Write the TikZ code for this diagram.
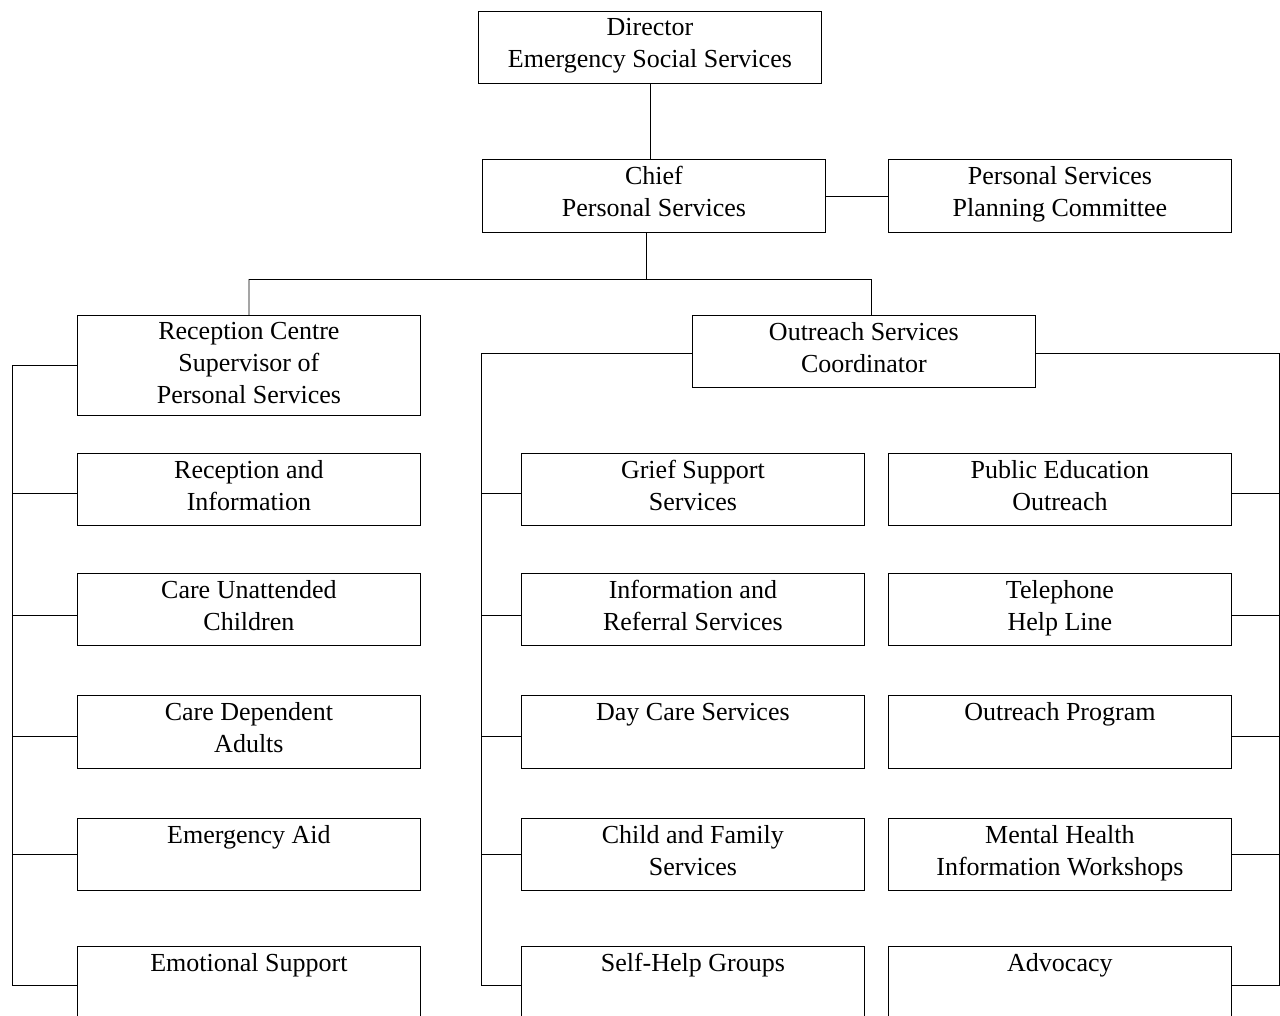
\documentclass[tikz,border=0pt]{standalone}
\usepackage{fontspec}
\setmainfont{Liberation Serif}
\newcommand{\orgfs}{\fontsize{26}{32}\selectfont}
\begin{document}
\begin{tikzpicture}[x=1pt,y=-1pt,
  box/.style={draw, line width=0.8pt, minimum width=343, minimum height=72, anchor=north west, inner sep=0},
  lbl/.style={anchor=north, inner sep=0, align=center, font=\orgfs},
  wire/.style={line width=0.8pt}]
\useasboundingbox (0,0) rectangle (1280,1015);
\clip (0,0) rectangle (1280,1015);
% top
\node[box] (dir) at (478,11) {};
\node[lbl] (dirT) at ([yshift=-7]dir.north) {Director\\Emergency Social Services};
\node[box, minimum height=73] (chief) at (482,159) {};
\node[lbl] (chiefT) at ([yshift=-7]chief.north) {Chief\\Personal Services};
\node[box, minimum height=73] (plan) at (888,159) {};
\node[lbl] (planT) at ([yshift=-7]plan.north) {Personal Services\\Planning Committee};
\node[box, minimum height=100] (rc) at (77,315) {};
\node[lbl] (rcT) at ([yshift=-7]rc.north) {Reception Centre\\Supervisor of\\Personal Services};
\node[box] (oc) at (692,315) {};
\node[lbl] (ocT) at ([yshift=-7]oc.north) {Outreach Services\\Coordinator};
% left column
\node[box] (l1) at (77,453) {};
\node[lbl] (l1T) at ([yshift=-7]l1.north) {Reception and\\Information};
\node[box] (l2) at (77,573) {};
\node[lbl] (l2T) at ([yshift=-7]l2.north) {Care Unattended\\Children};
\node[box, minimum height=73] (l3) at (77,695) {};
\node[lbl] (l3T) at ([yshift=-7]l3.north) {Care Dependent\\Adults};
\node[box] (l4) at (77,818) {};
\node[lbl] (l4T) at ([yshift=-7]l4.north) {Emergency Aid};
\node[box, minimum height=78] (l5) at (77,946) {};
\node[lbl] (l5T) at ([yshift=-7]l5.north) {Emotional Support};
% middle column
\node[box] (m1) at (521,453) {};
\node[lbl] (m1T) at ([yshift=-7]m1.north) {Grief Support\\Services};
\node[box] (m2) at (521,573) {};
\node[lbl] (m2T) at ([yshift=-7]m2.north) {Information and\\Referral Services};
\node[box, minimum height=73] (m3) at (521,695) {};
\node[lbl] (m3T) at ([yshift=-8]m3.north) {Day Care Services};
\node[box] (m4) at (521,818) {};
\node[lbl] (m4T) at ([yshift=-7]m4.north) {Child and Family\\Services};
\node[box, minimum height=78] (m5) at (521,946) {};
\node[lbl] (m5T) at ([yshift=-7]m5.north) {Self-Help Groups};
% right column
\node[box] (r1) at (888,453) {};
\node[lbl] (r1T) at ([yshift=-7]r1.north) {Public Education\\Outreach};
\node[box] (r2) at (888,573) {};
\node[lbl] (r2T) at ([yshift=-7]r2.north) {Telephone\\Help Line};
\node[box, minimum height=73] (r3) at (888,695) {};
\node[lbl] (r3T) at ([yshift=-7]r3.north) {Outreach Program};
\node[box] (r4) at (888,818) {};
\node[lbl] (r4T) at ([yshift=-7]r4.north) {Mental Health\\Information Workshops};
\node[box, minimum height=78] (r5) at (888,946) {};
\node[lbl] (r5T) at ([yshift=-7]r5.north) {Advocacy};
% coordinates
\coordinate (jc) at (646,279);
\coordinate (jl) at (249,279);
\coordinate (jr) at (871,279);
\coordinate (busL) at (12,0);
\coordinate (busM) at (481,353);
\coordinate (busR) at (1279,353);
% connectors
\draw[wire] (dir.south) -- (dir.south |- chief.north);
\draw[wire] (chief.east) -- (plan.west);
\draw[wire] (chief.south -| jc) -- (jc);
\draw[wire] (jl) -- (jr);
\draw[wire] (jl) -- (rc.north);
\draw[wire] (jr) -- (jr |- oc.north);
% left bus
\draw[wire] (rc.west) -- (rc.west -| busL) -- (l5.west -| busL) -- (l5.west);
\foreach \n/\d in {l1/4,l2/6,l3/4,l4/0} \draw[wire] ([yshift=-\d]\n.west) -- ([yshift=-\d]\n.west -| busL);
% middle bus
\draw[wire] (oc.west |- busM) -- (busM) -- (busM |- m5.west) -- (m5.west);
\foreach \n/\d in {m1/4,m2/6,m3/4,m4/0} \draw[wire] ([yshift=-\d]\n.west) -- ([yshift=-\d]\n.west -| busM);
% right bus
\draw[wire] (oc.east |- busR) -- (busR) -- (busR |- r5.east) -- (r5.east);
\foreach \n/\d in {r1/4,r2/6,r3/4,r4/0} \draw[wire] ([yshift=-\d]\n.east) -- ([yshift=-\d]\n.east -| busR);
\end{tikzpicture}
\end{document}
